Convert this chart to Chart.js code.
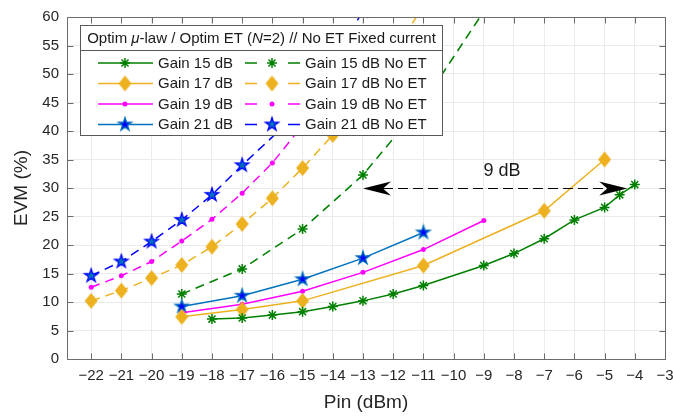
<!DOCTYPE html>
<html>
<head>
<meta charset="utf-8">
<script src="https://cdn.jsdelivr.net/npm/chart.js@4.4.1/dist/chart.umd.min.js"></script>
<style>
  html, body { margin: 0; padding: 0; background: #fff; }
</style>
</head>
<body>
<canvas id="evmChart" width="673" height="416"></canvas>
<script>
// Tick labels
const xTicks = [-22, -21, -20, -19, -18, -17, -16, -15, -14, -13, -12, -11, -10, -9, -8, -7, -6, -5, -4, -3];
const yTicks = [0, 5, 10, 15, 20, 25, 30, 35, 40, 45, 50, 55, 60];

// Optim mu-law / Optim ET (N=2)
const pinG15 = [-18, -17, -16, -15, -14, -13, -12, -11, -9, -8, -7, -6, -5, -4.5, -4];
const evmG15 = [7.0, 7.2, 7.7, 8.3, 9.2, 10.2, 11.4, 12.9, 16.4, 18.5, 21.1, 24.4, 26.6, 28.8, 30.6];
const pinG17 = [-19, -17, -15, -11, -7, -5];
const evmG17 = [7.4, 8.7, 10.2, 16.4, 26.0, 35.0];
const pinG19 = [-19, -17, -15, -13, -11, -9];
const evmG19 = [8.1, 9.6, 11.9, 15.2, 19.2, 24.3];
const pinG21 = [-19, -17, -15, -13, -11];
const evmG21 = [9.2, 11.1, 14.0, 17.7, 22.2];

// No ET, fixed current
const pinG15NoEt = [-19, -17, -15, -13, -11, -9];
const evmG15NoEt = [11.4, 15.8, 22.8, 32.3, 45.0, 61.0];
const pinG17NoEt = [-22, -21, -20, -19, -18, -17, -16, -15, -14, -13, -12, -11];
const evmG17NoEt = [10.2, 12.0, 14.2, 16.5, 19.7, 23.7, 28.2, 33.5, 39.3, 46.5, 53.5, 62.0];
const pinG19NoEt = [-22, -21, -20, -19, -18, -17, -16, -15, -14, -13];
const evmG19NoEt = [12.6, 14.6, 17.1, 20.7, 24.5, 29.1, 34.4, 41.0, 48.0, 55.0];
const pinG21NoEt = [-22, -21, -20, -19, -18, -17, -15, -13];
const evmG21NoEt = [14.6, 17.1, 20.6, 24.4, 28.8, 34.0, 43.9, 61.0];

// 9 dB annotation (data units)
const arrowFrom = [-13, 30];
const arrowTo = [-4.25, 30];
const arrowLabel = [-8.4, 32.9];
const arrowText = '9 dB';

const GREEN = '#008000';
const ORANGE = '#EDB120';
const MAGENTA = '#FF00FF';
const BLUE = '#0072BD';
const PURE_BLUE = '#0000FF';
const FONT = "'Liberation Sans', Arial, Helvetica, sans-serif";

Chart.defaults.font.family = FONT;

// Marker images
function makeStar(R, fill, stroke) {
    const size = Math.ceil(2 * R + 4);
    const c = document.createElement('canvas');
    c.width = c.height = size;
    const g = c.getContext('2d');
    const cx = size / 2, cy = size / 2;
    g.beginPath();
    for (let i = 0; i < 10; i++) {
        const r = i % 2 ? R * 0.382 : R;
        const a = -Math.PI / 2 + i * Math.PI / 5;
        g.lineTo(cx + r * Math.cos(a), cy + r * Math.sin(a));
    }
    g.closePath();
    g.fillStyle = fill;
    g.fill();
    g.lineWidth = 1.3;
    g.strokeStyle = stroke;
    g.stroke();
    return c;
}

function makeDiamond(hw, hh, color) {
    const w = Math.ceil(2 * hw + 2), h = Math.ceil(2 * hh + 2);
    const c = document.createElement('canvas');
    c.width = w; c.height = h;
    const g = c.getContext('2d');
    g.beginPath();
    g.moveTo(w / 2, h / 2 - hh);
    g.lineTo(w / 2 + hw, h / 2);
    g.lineTo(w / 2, h / 2 + hh);
    g.lineTo(w / 2 - hw, h / 2);
    g.closePath();
    g.fillStyle = color;
    g.fill();
    return c;
}

const diamond = makeDiamond(6.5, 8, ORANGE);
const starSolid = makeStar(7, PURE_BLUE, BLUE);
const starDashed = makeStar(7, BLUE, PURE_BLUE);

const series = [
    { label: 'Gain 15 dB', xs: pinG15, ys: evmG15, color: GREEN, marker: 'star', dashed: false },
    { label: 'Gain 17 dB', xs: pinG17, ys: evmG17, color: ORANGE, marker: diamond, dashed: false },
    { label: 'Gain 19 dB', xs: pinG19, ys: evmG19, color: MAGENTA, marker: 'circle', dashed: false },
    { label: 'Gain 21 dB', xs: pinG21, ys: evmG21, color: BLUE, marker: starSolid, dashed: false },
    { label: 'Gain 15 dB No ET', xs: pinG15NoEt, ys: evmG15NoEt, color: GREEN, marker: 'star', dashed: true },
    { label: 'Gain 17 dB No ET', xs: pinG17NoEt, ys: evmG17NoEt, color: ORANGE, marker: diamond, dashed: true },
    { label: 'Gain 19 dB No ET', xs: pinG19NoEt, ys: evmG19NoEt, color: MAGENTA, marker: 'circle', dashed: true },
    { label: 'Gain 21 dB No ET', xs: pinG21NoEt, ys: evmG21NoEt, color: PURE_BLUE, marker: starDashed, dashed: true }
];

const datasets = series.map(s => ({
    label: s.label,
    data: s.xs.map((x, i) => ({ x: x, y: s.ys[i] })),
    borderColor: s.color,
    backgroundColor: s.color,
    borderWidth: 1.5,
    borderDash: s.dashed ? [9, 6] : [],
    pointStyle: s.marker,
    pointRadius: s.marker === 'circle' ? 2.5 : (s.marker === 'star' ? 5 : 7),
    pointBorderWidth: s.marker === 'star' ? 1.5 : 0,
    pointBorderColor: s.color,
    pointBackgroundColor: s.color,
    tension: 0,
    fill: false,
    clip: 0
}));

const minus = v => String(v).replace('-', '\u2212');

function drawMarker(ctx, s, x, y) {
    ctx.save();
    if (typeof s.marker === 'object') {
        ctx.drawImage(s.marker, x - s.marker.width / 2, y - s.marker.height / 2);
    } else if (s.marker === 'star') {
        const r = 5;
        ctx.strokeStyle = s.color;
        ctx.lineWidth = 1.5;
        ctx.beginPath();
        ctx.moveTo(x - r, y); ctx.lineTo(x + r, y);
        ctx.moveTo(x, y - r); ctx.lineTo(x, y + r);
        const d = r * Math.SQRT1_2;
        ctx.moveTo(x - d, y - d); ctx.lineTo(x + d, y + d);
        ctx.moveTo(x - d, y + d); ctx.lineTo(x + d, y - d);
        ctx.stroke();
    } else {
        ctx.fillStyle = s.color;
        ctx.beginPath();
        ctx.arc(x, y, 2.5, 0, Math.PI * 2);
        ctx.fill();
    }
    ctx.restore();
}

function arrowHead(ctx, tipX, tipY, dir) {
    const L = 28, W = 7, notch = 20;
    ctx.beginPath();
    ctx.moveTo(tipX, tipY);
    ctx.lineTo(tipX + dir * L, tipY - W);
    ctx.lineTo(tipX + dir * notch, tipY);
    ctx.lineTo(tipX + dir * L, tipY + W);
    ctx.closePath();
    ctx.fill();
}

const overlayPlugin = {
    id: 'overlay',
    afterDatasetsDraw(chart) {
        const { ctx, scales: { x, y } } = chart;

        // 9 dB double arrow
        const x1 = x.getPixelForValue(arrowFrom[0]), x2 = x.getPixelForValue(arrowTo[0]);
        const ay = Math.round(y.getPixelForValue(arrowFrom[1])) + 0.5;
        ctx.save();
        ctx.strokeStyle = '#000';
        ctx.fillStyle = '#000';
        ctx.lineWidth = 1;
        ctx.setLineDash([10, 5]);
        ctx.beginPath();
        ctx.moveTo(x1 + 20, ay);
        ctx.lineTo(x2 - 20, ay);
        ctx.stroke();
        ctx.setLineDash([]);
        arrowHead(ctx, x1, ay, 1);
        arrowHead(ctx, x2, ay, -1);
        ctx.font = '18px ' + FONT;
        ctx.textAlign = 'center';
        ctx.textBaseline = 'middle';
        ctx.fillStyle = '#1a1a1a';
        ctx.fillText(arrowText, x.getPixelForValue(arrowLabel[0]), y.getPixelForValue(arrowLabel[1]));
        ctx.restore();

        // Legend box
        const bx = 80.5, by = 25.5, bw = 362, bh = 110;
        ctx.save();
        ctx.fillStyle = '#fff';
        ctx.fillRect(bx, by, bw, bh);
        ctx.strokeStyle = '#595959';
        ctx.lineWidth = 1;
        ctx.strokeRect(bx, by, bw, bh);
        ctx.beginPath();
        ctx.moveTo(bx, 50.5);
        ctx.lineTo(bx + bw, 50.5);
        ctx.stroke();

        // Title with italic parts
        const parts = [
            ['Optim ', false], ['\u03BC', true], ['-law / Optim ET (', false],
            ['N', true], ['=2) // No ET Fixed current', false]
        ];
        ctx.fillStyle = '#1a1a1a';
        ctx.textBaseline = 'middle';
        let total = 0;
        parts.forEach(p => {
            ctx.font = (p[1] ? 'italic ' : '') + '15px ' + FONT;
            total += ctx.measureText(p[0]).width;
        });
        let tx = bx + bw / 2 - total / 2;
        parts.forEach(p => {
            ctx.font = (p[1] ? 'italic ' : '') + '15px ' + FONT;
            ctx.fillText(p[0], tx, 38.5);
            tx += ctx.measureText(p[0]).width;
        });

        // Entries
        ctx.font = '15px ' + FONT;
        series.forEach((s, i) => {
            const col = i < 4 ? 0 : 1;
            const row = i % 4;
            const ry = 63 + row * 20.5;
            const lx0 = col ? 245 : 98;
            const mx = lx0 + 27;
            ctx.strokeStyle = s.color;
            ctx.lineWidth = 1.5;
            ctx.beginPath();
            if (s.dashed) {
                ctx.moveTo(lx0, ry); ctx.lineTo(lx0 + 12, ry);
                ctx.moveTo(lx0 + 43, ry); ctx.lineTo(lx0 + 55, ry);
            } else {
                ctx.moveTo(lx0, ry); ctx.lineTo(lx0 + 55, ry);
            }
            ctx.stroke();
            drawMarker(ctx, s, mx, ry);
            ctx.fillStyle = '#1a1a1a';
            ctx.textAlign = 'left';
            ctx.fillText(s.label, lx0 + 60, ry + 0.5);
        });
        ctx.restore();
    },
    afterDraw(chart) {
        const { ctx, chartArea: a, scales: { x, y } } = chart;
        const L = Math.floor(a.left) + 0.5, R = Math.floor(a.right) + 0.5;
        const T = Math.floor(a.top) + 0.5, B = Math.floor(a.bottom) + 0.5;
        ctx.save();
        ctx.strokeStyle = '#6b6b6b';
        ctx.lineWidth = 1;
        ctx.beginPath();
        ctx.rect(L, T, R - L, B - T);
        xTicks.forEach(v => {
            const px = Math.round(x.getPixelForValue(v)) + 0.5;
            ctx.moveTo(px, B); ctx.lineTo(px, B - 6);
            ctx.moveTo(px, T); ctx.lineTo(px, T + 6);
        });
        yTicks.forEach(v => {
            const py = Math.round(y.getPixelForValue(v)) + 0.5;
            ctx.moveTo(L, py); ctx.lineTo(L + 6, py);
            ctx.moveTo(R, py); ctx.lineTo(R - 6, py);
        });
        ctx.stroke();
        ctx.restore();
    }
};

new Chart(document.getElementById('evmChart').getContext('2d'), {
    type: 'line',
    data: { datasets: datasets },
    options: {
        responsive: false,
        animation: false,
        layout: { padding: { top: 17, right: 8, left: 0, bottom: 0 } },
        plugins: { legend: { display: false }, tooltip: { enabled: false } },
        scales: {
            x: {
                type: 'linear',
                min: -22.8,
                max: -3,
                afterBuildTicks: s => { s.ticks = xTicks.map(v => ({ value: v })); },
                afterFit: s => { s.height = 57; s.paddingLeft = 0; s.paddingRight = 0; },
                grid: { color: '#ebebeb', drawTicks: false },
                border: { display: false },
                ticks: {
                    autoSkip: false, maxRotation: 0, padding: 8,
                    color: '#262626', font: { size: 15 },
                    callback: v => minus(v)
                },
                title: {
                    display: true, text: 'Pin (dBm)', color: '#262626',
                    font: { size: 19 }, padding: { top: 0, bottom: 2 }
                }
            },
            y: {
                type: 'linear',
                min: 0,
                max: 60,
                afterBuildTicks: s => { s.ticks = yTicks.map(v => ({ value: v })); },
                afterFit: s => { s.width = 67; s.paddingTop = 0; s.paddingBottom = 0; },
                grid: { color: '#ebebeb', drawTicks: false },
                border: { display: false },
                ticks: {
                    padding: 8, color: '#262626', font: { size: 15 },
                    callback: v => minus(v)
                },
                title: {
                    display: true, text: 'EVM (%)', color: '#262626',
                    font: { size: 19 }, padding: { top: 10, bottom: 0 }
                }
            }
        }
    },
    plugins: [overlayPlugin]
});
</script>
</body>
</html>
